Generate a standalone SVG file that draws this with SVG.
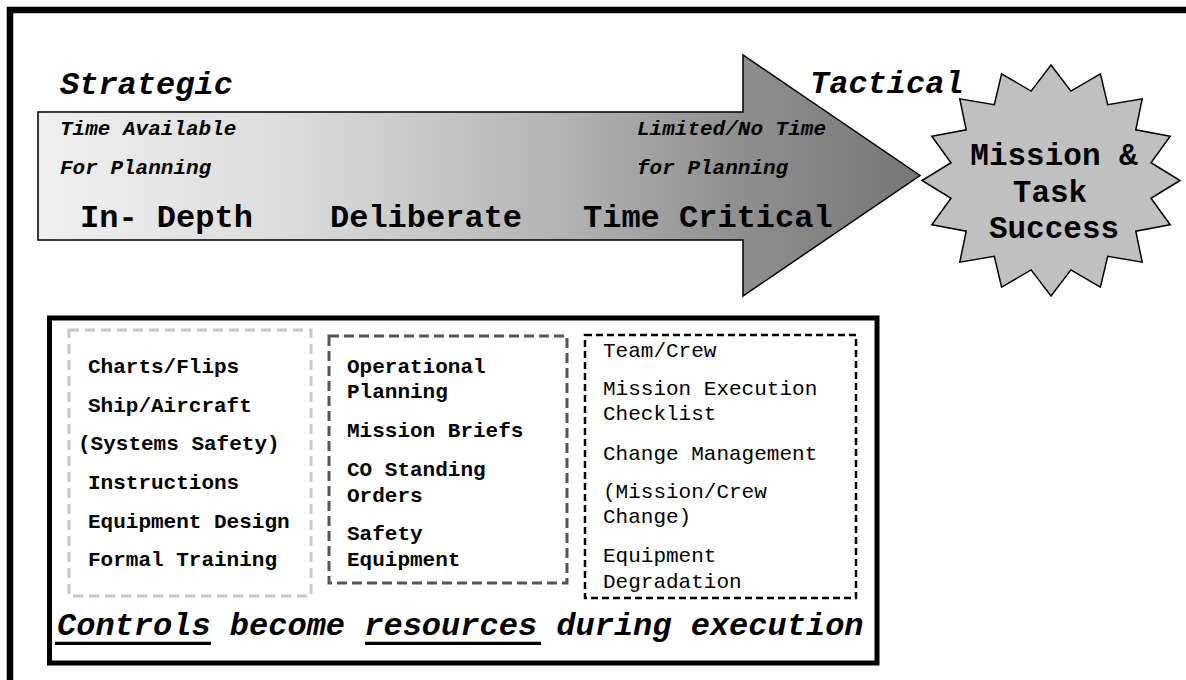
<svg xmlns="http://www.w3.org/2000/svg" width="1186" height="680" viewBox="0 0 1186 680">
<defs>
<linearGradient id="arrowGrad" gradientUnits="userSpaceOnUse" x1="38" y1="0" x2="920" y2="0">
<stop offset="0" stop-color="#f0f0f0"/>
<stop offset="0.3" stop-color="#dadada"/>
<stop offset="0.6" stop-color="#b2b2b2"/>
<stop offset="0.8" stop-color="#8e8e8e"/>
<stop offset="1" stop-color="#777777"/>
</linearGradient>
<style>
.t{font-family:"Liberation Mono","Courier New",monospace;fill:#000}
.b{font-weight:bold}
.i{font-style:italic}
.big{font-size:32px}
.star{font-size:31px}
.sm{font-size:21px}
.dash{fill:none}
</style>
</defs>
<rect width="1186" height="680" fill="#ffffff"/>
<rect id="frame" x="10" y="10" width="1200" height="700" fill="none" stroke="#000" stroke-width="6.5"/>

<g id="timeline-arrow">
<polygon points="38,112 743,112 743,55 920,175.5 743,296 743,240 38,240" fill="url(#arrowGrad)" stroke="#000" stroke-width="1.5"/>
<text class="t b i sm" x="60" y="135">Time Available</text>
<text class="t b i sm" x="60" y="174">For Planning</text>
<text class="t b i sm" x="637" y="135">Limited/No Time</text>
<text class="t b i sm" x="637" y="174">for Planning</text>
<text class="t b big" x="80" y="227">In- Depth</text>
<text class="t b big" x="330" y="227">Deliberate</text>
<text class="t b big" x="583" y="227">Time Critical</text>
</g>

<g id="labels">
<text class="t b i big" x="60" y="93.5">Strategic</text>
<text class="t b i big" x="810" y="93">Tactical</text>
</g>

<g id="mission-success">
<polygon points="1180,180.5 1151,198.3 1170.2,224.7 1135.8,231.2 1142.2,262.2 1107.7,256.3 1100.4,287.2 1070.9,269.9 1051,296 1031.1,269.9 1001.6,287.2 994.3,256.3 959.8,262.2 966.2,231.2 931.8,224.7 951,198.3 922,180.5 951,162.7 931.8,136.3 966.2,129.8 959.8,98.8 994.3,104.7 1001.6,73.8 1031.1,91.1 1051,65 1070.9,91.1 1100.4,73.8 1107.7,104.7 1142.2,98.8 1135.8,129.8 1170.2,136.3 1151,162.7" fill="#c0c0c0" stroke="#000" stroke-width="1.5"/>
<text class="t b star" x="1054" y="165" text-anchor="middle">Mission &amp;</text>
<text class="t b star" x="1050" y="202" text-anchor="middle">Task</text>
<text class="t b star" x="1054" y="238" text-anchor="middle">Success</text>
</g>

<g id="controls-box">
<rect x="49.5" y="318" width="827.5" height="345" fill="none" stroke="#000" stroke-width="5"/>
<text class="t b i big" x="57" y="635">Controls become resources during execution</text>
<line x1="55" y1="643.3" x2="211" y2="643.3" stroke="#000" stroke-width="3.3"/>
<line x1="365" y1="643.3" x2="541" y2="643.3" stroke="#000" stroke-width="3.3"/>
</g>

<g id="strategic-controls">
<rect class="dash" x="69" y="330" width="242" height="266" stroke="#c8c8c8" stroke-width="3" stroke-dasharray="10 6"/>
<text class="t b sm" x="88" y="373">Charts/Flips</text>
<text class="t b sm" x="88" y="412">Ship/Aircraft</text>
<text class="t b sm" x="78" y="450">(Systems Safety)</text>
<text class="t b sm" x="88" y="489">Instructions</text>
<text class="t b sm" x="88" y="528">Equipment Design</text>
<text class="t b sm" x="88" y="566">Formal Training</text>
</g>

<g id="deliberate-controls">
<rect class="dash" x="329" y="336" width="238" height="247" stroke="#555555" stroke-width="3" stroke-dasharray="10 5"/>
<text class="t b sm" x="347" y="373">Operational</text>
<text class="t b sm" x="347" y="398">Planning</text>
<text class="t b sm" x="347" y="437">Mission Briefs</text>
<text class="t b sm" x="347" y="476">CO Standing</text>
<text class="t b sm" x="347" y="502">Orders</text>
<text class="t b sm" x="347" y="540">Safety</text>
<text class="t b sm" x="347" y="566">Equipment</text>
</g>

<g id="tactical-resources">
<rect class="dash" x="585" y="335" width="271" height="263" stroke="#000" stroke-width="2.5" stroke-dasharray="7 4"/>
<text class="t sm" x="603" y="357">Team/Crew</text>
<text class="t sm" x="603" y="395">Mission Execution</text>
<text class="t sm" x="603" y="420">Checklist</text>
<text class="t sm" x="603" y="460">Change Management</text>
<text class="t sm" x="603" y="498">(Mission/Crew</text>
<text class="t sm" x="603" y="523">Change)</text>
<text class="t sm" x="603" y="562">Equipment</text>
<text class="t sm" x="603" y="588">Degradation</text>
</g>

<g id="connectors"></g>
</svg>
